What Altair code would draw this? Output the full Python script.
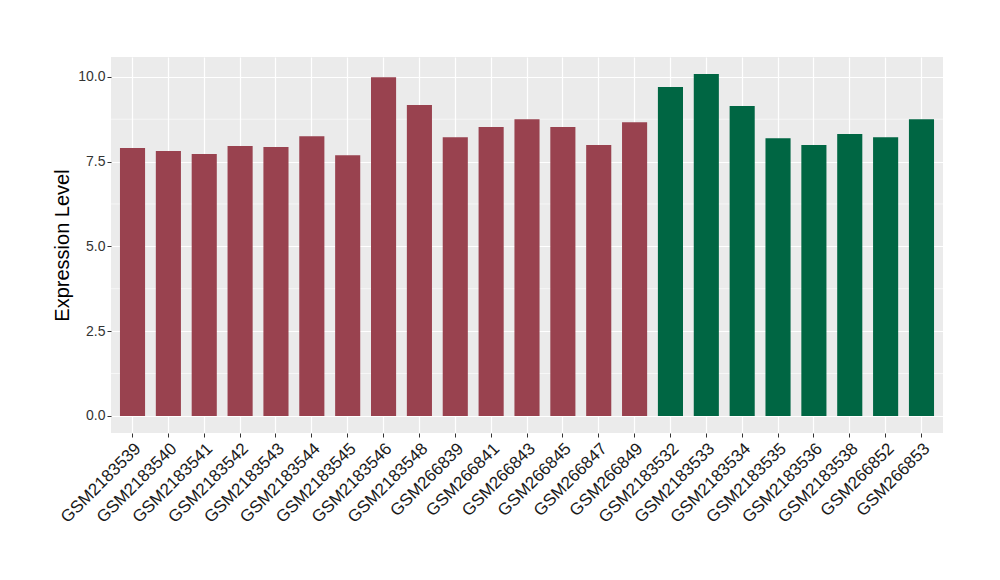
import altair as alt
import pandas as pd

samples = ["GSM2183539", "GSM2183540", "GSM2183541", "GSM2183542", "GSM2183543",
           "GSM2183544", "GSM2183545", "GSM2183546", "GSM2183548", "GSM266839",
           "GSM266841", "GSM266843", "GSM266845", "GSM266847", "GSM266849",
           "GSM2183532", "GSM2183533", "GSM2183534", "GSM2183535", "GSM2183536",
           "GSM2183538", "GSM266852", "GSM266853"]
values = [7.90, 7.81, 7.72, 7.96, 7.93, 8.25, 7.69, 9.99, 9.17, 8.22,
          8.52, 8.75, 8.52, 7.99, 8.66, 9.70, 10.08, 9.14, 8.19, 7.99,
          8.31, 8.22, 8.75]
groups = ["A"] * 15 + ["B"] * 8
group_colors = ["#99424F", "#006643"]
minor_grid = [1.25, 3.75, 6.25, 8.75]

df = pd.DataFrame({"sample": samples, "value": values, "group": groups})
mdf = pd.DataFrame({"v": minor_grid})

yscale = alt.Scale(domain=[-0.504, 10.584], nice=False, zero=False)

minor = alt.Chart(mdf).mark_rule(color="white", strokeWidth=0.6).encode(
    y=alt.Y("v:Q", scale=yscale)
)

bars = alt.Chart(df).mark_bar().encode(
    x=alt.X("sample:N", sort=samples,
            scale=alt.Scale(paddingInner=0.3, paddingOuter=0.25),
            axis=alt.Axis(title=None, labelAngle=-45, labelAlign="right",
                          labelBaseline="top", labelFontSize=17,
                          labelColor="#1a1a1a", labelPadding=3,
                          bandPosition=0.5, grid=True, gridColor="white",
                          gridWidth=1.2, ticks=True, tickSize=4,
                          tickColor="#333333", domain=False,
                          labelFont="Liberation Sans")),
    y=alt.Y("value:Q", scale=yscale,
            axis=alt.Axis(title="Expression Level", values=[0, 2.5, 5, 7.5, 10],
                          format=".1f", labelFontSize=14, labelColor="#333333",
                          titleFontSize=20, titleFontWeight="normal",
                          titleColor="black", titlePadding=5,
                          grid=True, gridColor="white", gridWidth=1.2,
                          tickSize=4, tickColor="#333333", domain=False,
                          labelFont="Liberation Sans", titleFont="Liberation Sans")),
    color=alt.Color("group:N", scale=alt.Scale(domain=["A", "B"], range=group_colors),
                    legend=None),
)

chart = alt.layer(minor, bars).properties(
    width=832, height=376,
    autosize=alt.AutoSizeParams(type="none"),
    padding={"left": 103, "top": 49, "right": 49, "bottom": 140},
).configure_view(fill="#EBEBEB", stroke=None)

chart.save("out.html", embed_options={"renderer": "svg", "actions": False})
